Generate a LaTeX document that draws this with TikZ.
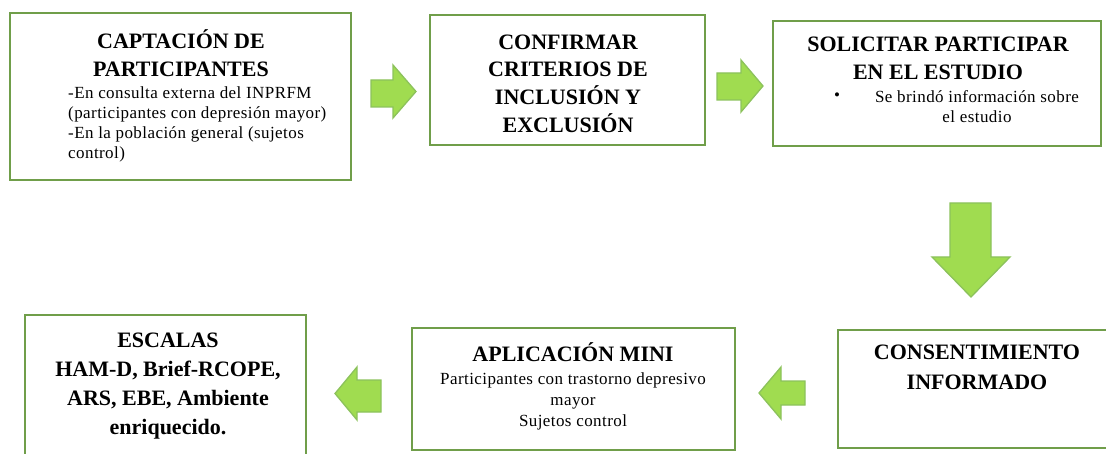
\documentclass[tikz,border=0pt]{standalone}
\usepackage{fontspec}
\setmainfont{Liberation Serif}
\newfontfamily\cuerpo[LetterSpace=2.5]{Liberation Serif}
\usetikzlibrary{positioning}
\definecolor{bordeverde}{RGB}{112,158,74}
\definecolor{flechaverde}{RGB}{160,220,80}
\definecolor{flechaborde}{RGB}{140,194,92}
\begin{document}
\begin{tikzpicture}[x=1pt,y=-1pt,
    caja/.style={draw=bordeverde,line width=1.6pt,inner sep=0pt},
    titulo/.style={font=\fontsize{22}{28}\selectfont\bfseries,align=center,inner sep=0pt},
    texto/.style={font=\cuerpo\fontsize{17}{20}\selectfont,align=left,inner sep=0pt},
    flecha/.style={fill=flechaverde,draw=flechaborde,line width=1.3pt,line join=miter}]
      \useasboundingbox (0,0) rectangle (1106,454);
      \clip (0,0) rectangle (1106,454);

      \node[caja,minimum width=341pt,minimum height=167pt] (capt) at (180.5,96.5) {};
      \node[caja,minimum width=275pt,minimum height=130pt] (conf) at (567.5,80) {};
      \node[caja,minimum width=328pt,minimum height=125pt] (soli) at (937,83.5) {};
      \node[caja,minimum width=282pt,minimum height=118pt] (cons) at (979,389) {};
      \node[caja,minimum width=323pt,minimum height=122pt] (apli) at (573.5,389) {};
      \node[caja,minimum width=281pt,minimum height=155pt] (esca) at (165.5,392.5) {};

      \node[titulo] (captT) at (181,53) {CAPTACIÓN DE\\PARTICIPANTES};
      \node[texto,anchor=west] (captB) at (68,124) {-En consulta externa del INPRFM\\(participantes con depresión mayor)\\-En la población general (sujetos\\control)};
      \node[titulo,font=\fontsize{22}{27.7}\selectfont\bfseries] (confT) at (568,83.5) {CONFIRMAR\\CRITERIOS DE\\INCLUSIÓN Y\\EXCLUSIÓN};
      \node[titulo] (soliT) at (938,58.5) {SOLICITAR PARTICIPAR\\EN EL ESTUDIO};
      \node[texto] (soliP) at (837,97) {•};
      \node[texto,align=center] (soliB) at (977,107) {Se brindó información sobre\\el estudio};
      \node[titulo,font=\fontsize{22}{30}\selectfont\bfseries] (consT) at (977,367) {CONSENTIMIENTO\\INFORMADO};
      \node[titulo] (apliT) at (573,352) {APLICACIÓN MINI};
      \node[texto,align=center,font=\cuerpo\fontsize{17}{21}\selectfont] (apliB) at (573,401) {Participantes con trastorno depresivo\\mayor\\Sujetos control};
      \node[titulo,font=\fontsize{22}{29}\selectfont\bfseries] (escaT) at (168,386) {ESCALAS\\HAM-D, Brief-RCOPE,\\ARS, EBE, Ambiente\\enriquecido.};

      \draw[flecha] (371,80) -- (393,80) -- (393,65) -- (416,91.5) -- (393,118) -- (393,107) -- (371,107) -- cycle;
      \draw[flecha] (717,73) -- (741,73) -- (741,60) -- (763,86) -- (741,112) -- (741,100) -- (717,100) -- cycle;
      \draw[flecha] (950,203) -- (991,203) -- (991,257) -- (1010,257) -- (971,297) -- (932,257) -- (950,257) -- cycle;
      \draw[flecha] (805,381) -- (781,381) -- (781,367) -- (759,393) -- (781,419) -- (781,405) -- (805,405) -- cycle;
      \draw[flecha] (381,380) -- (357,380) -- (357,367) -- (335,393.5) -- (357,420) -- (357,412) -- (381,412) -- cycle;
    \end{tikzpicture}
\end{document}
